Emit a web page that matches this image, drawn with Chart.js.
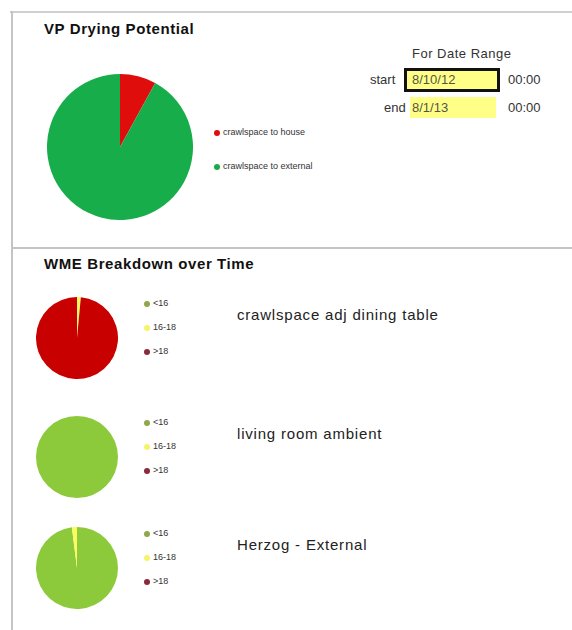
<!DOCTYPE html>
<html>
<head>
<meta charset="utf-8">
<script src="https://cdn.jsdelivr.net/npm/chart.js@4.4.1/dist/chart.umd.min.js"></script>
<style>
  body { margin: 0; background: #fff; font-family: "Liberation Sans", Arial, sans-serif; }
  #page { position: relative; width: 572px; height: 630px; overflow: hidden; }
  .abs { position: absolute; }
  .title { font-weight: bold; font-size: 15px; letter-spacing: 0.6px; color: #111; }
  .lbl { font-size: 15px; letter-spacing: 0.8px; color: #222; }
  .leg { font-size: 9px; color: #333; white-space: nowrap; }
  .dot { display: inline-block; width: 6px; height: 6px; border-radius: 3px; margin-right: 3px; vertical-align: middle; }
  .small { font-size: 13px; color: #333; }
</style>
</head>
<body>
<div id="page">
  <div class="abs" style="left:10px;top:11px;width:562px;height:2px;background:#cfcfcf"></div>
  <div class="abs" style="left:11px;top:11px;width:2px;height:619px;background:#c4c4c4"></div>
  <div class="abs" style="left:11px;top:247px;width:561px;height:2px;background:#c4c4c4"></div>

  <div class="abs title" style="left:44px;top:20px">VP Drying Potential</div>
  <div class="abs title" style="left:44px;top:255px">WME Breakdown over Time</div>

  <canvas id="vp" class="abs" style="left:47px;top:74px" width="146" height="146"></canvas>
  <div id="vpLegend" class="abs" style="left:214px;top:127px"></div>

  <div class="abs small" style="left:412px;top:46px;letter-spacing:0.5px">For Date Range</div>
  <div class="abs small" style="left:370px;top:72px">start</div>
  <div class="abs" style="left:404px;top:68px;width:90px;height:18px;border:3px solid #111;background:#ffff88"></div>
  <div class="abs small" style="left:412px;top:72px;color:#554">8/10/12</div>
  <div class="abs small" style="left:508px;top:72px">00:00</div>
  <div class="abs small" style="left:384px;top:100px">end</div>
  <div class="abs" style="left:410px;top:97px;width:86px;height:21px;background:#ffff88"></div>
  <div class="abs small" style="left:412px;top:100px;color:#554">8/1/13</div>
  <div class="abs small" style="left:508px;top:100px">00:00</div>
</div>

<script>
// top pie: vapour pressure drying potential
const vpLabels = ['crawlspace to house', 'crawlspace to external'];
const vpValues = [8, 92];
const vpColors = ['#e00d0d', '#17ad4a'];

// WME breakdown pies
const wmeLabels = ['<16', '16-18', '>18'];
const wmeColors = ['#8cca3c', '#fcfc60', '#c80000'];
const wmeLegendDots = ['#8ea84a', '#f4f46a', '#8a2a3a'];
const sensorNames = ['crawlspace adj dining table', 'living room ambient', 'Herzog - External'];
const diningValues = [0, 1.5, 98.5];
const livingValues = [100, 0, 0];
const herzogValues = [98, 2, 0];

const page = document.getElementById('page');

function makePie(canvas, labels, values, colors) {
    return new Chart(canvas, {
        type: 'pie',
        data: {
            labels: labels,
            datasets: [{ data: values, backgroundColor: colors, borderWidth: 0 }]
        },
        options: {
            responsive: false,
            animation: false,
            plugins: { legend: { display: false }, tooltip: { enabled: false } },
            layout: { padding: 0 }
        }
    });
}

function makeLegend(el, labels, colors, gap) {
    labels.forEach((lab, i) => {
        const row = document.createElement('div');
        row.className = 'leg';
        row.style.height = gap + 'px';
        row.innerHTML = '<span class="dot" style="background:' + colors[i] + '"></span>' + lab;
        el.appendChild(row);
    });
}

makePie(document.getElementById('vp'), vpLabels, vpValues, vpColors);
makeLegend(document.getElementById('vpLegend'), vpLabels, vpColors, 34);

// position of each small pie (centre y) in the lower panel
const wmeRows = [
    { cy: 338, values: diningValues },
    { cy: 457, values: livingValues },
    { cy: 568, values: herzogValues }
];

wmeRows.forEach((row, i) => {
    const c = document.createElement('canvas');
    c.width = 82; c.height = 82;
    c.className = 'abs';
    c.style.left = '36px';
    c.style.top = (row.cy - 41) + 'px';
    page.appendChild(c);
    makePie(c, wmeLabels, row.values, wmeColors);

    const leg = document.createElement('div');
    leg.className = 'abs';
    leg.style.left = '144px';
    leg.style.top = (row.cy - 40) + 'px';
    page.appendChild(leg);
    makeLegend(leg, wmeLabels, wmeLegendDots, 24);

    const name = document.createElement('div');
    name.className = 'abs lbl';
    name.style.left = '237px';
    name.style.top = (row.cy - 32) + 'px';
    name.textContent = sensorNames[i];
    page.appendChild(name);
});
</script>
</body>
</html>
